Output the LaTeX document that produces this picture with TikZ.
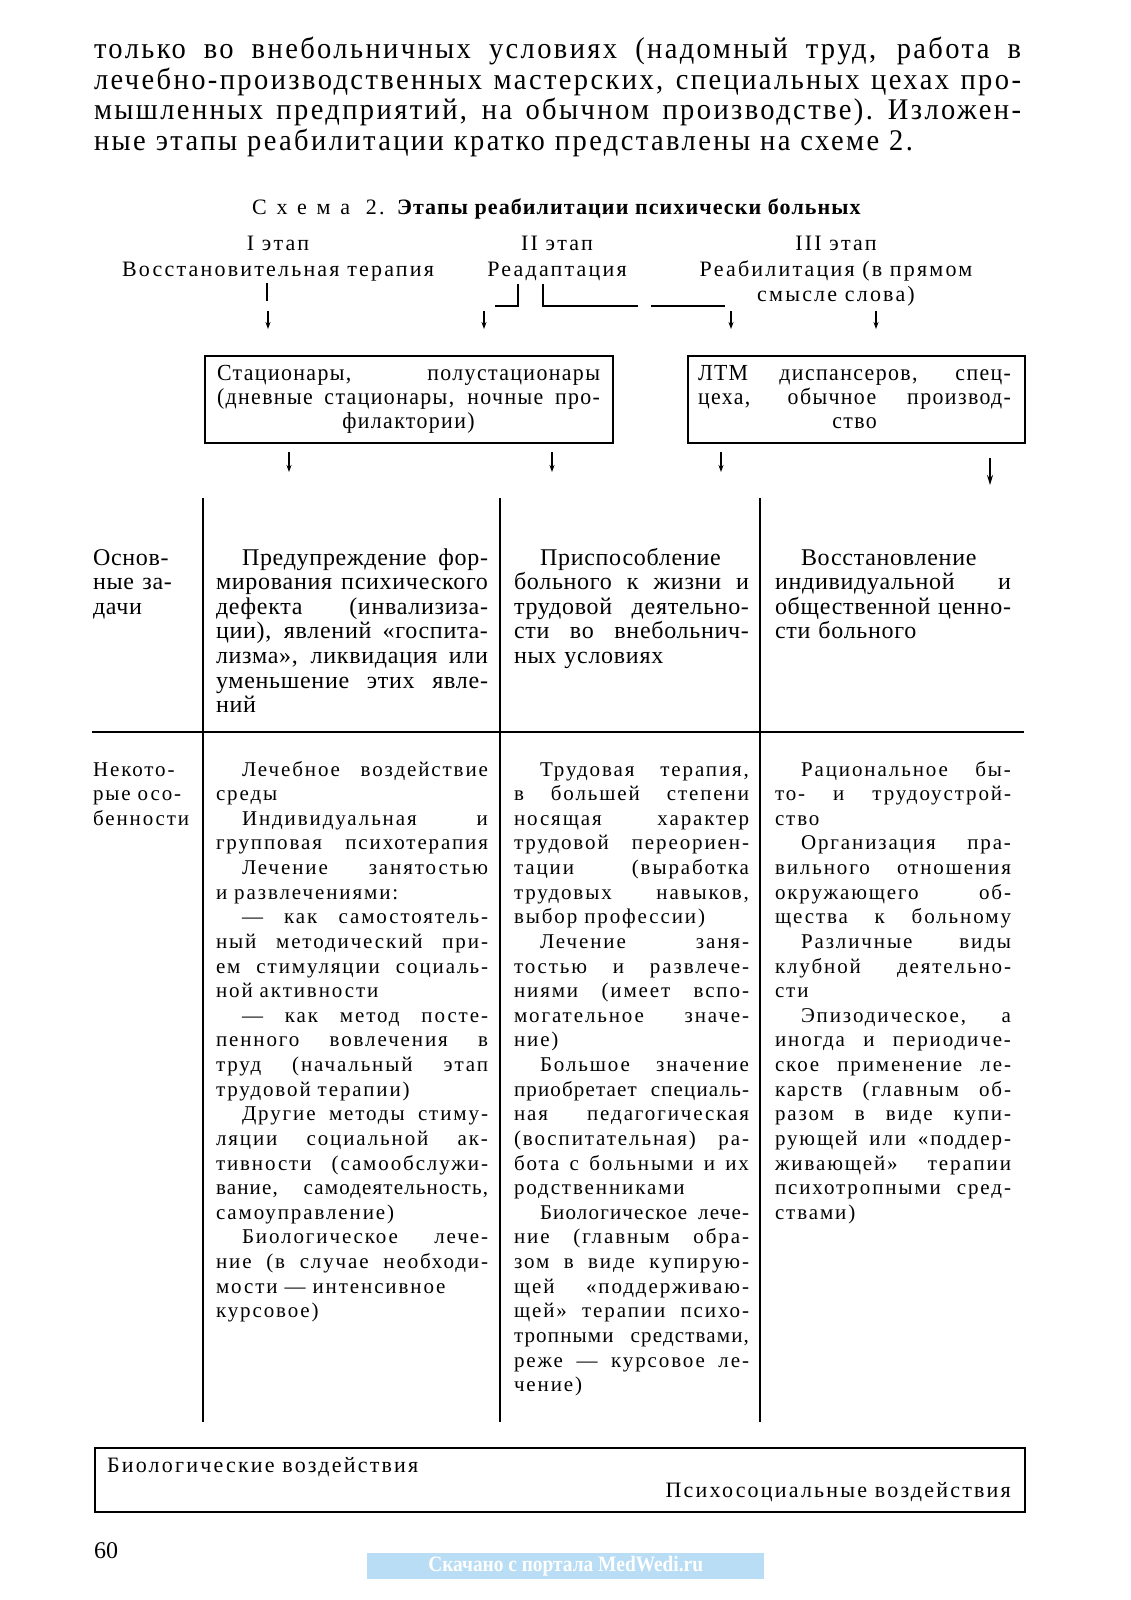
\documentclass[tikz,border=0pt]{standalone}
\usepackage{fontspec}
\setmainfont{Liberation Serif}
\newfontfamily\condf[FakeStretch=0.95,LetterSpace=8]{Liberation Serif}
\newfontfamily\boxf[FakeStretch=0.95,LetterSpace=6]{Liberation Serif}
\newfontfamily\headf[LetterSpace=10]{Liberation Serif}
\newfontfamily\rowaf[LetterSpace=3]{Liberation Serif}
\newfontfamily\widef[LetterSpace=9]{Liberation Serif}
\newfontfamily\wmf[FakeStretch=0.88]{Liberation Serif}
\usetikzlibrary{arrows.meta}
\newlength\indw \setlength\indw{26pt}
\newcommand\jsp{\spaceskip=0.25em plus 1fil minus 0.1em\relax}
\newcommand\jstl[1]{\leavevmode\hbox to\linewidth{\jsp #1}\par}
\newcommand\ijstl[1]{\leavevmode\hbox to\linewidth{\jsp\hspace*{\indw}#1}\par}
\newcommand\sqjstl[1]{\leavevmode\hbox to\linewidth{\addfontfeature{LetterSpace=5.5}\jsp #1}\par}
\newcommand\sqijstl[1]{\leavevmode\hbox to\linewidth{\addfontfeature{LetterSpace=5.5}\jsp\hspace*{\indw}#1}\par}
\newcommand\lftl[1]{\mbox{#1}\par}
\newcommand\ilftl[1]{\mbox{\hspace*{\indw}#1}\par}
\newcommand\cntl[1]{\leavevmode\hbox to\linewidth{\hss #1\hss}\par}
\tikzset{
  txt/.style={inner sep=0pt, outer sep=0pt, anchor=base west},
  rowa/.style={txt, font=\rowaf\fontsize{24}{24.63}\selectfont},
  rowb/.style={txt, font=\widef\fontsize{21}{24.63}\selectfont},
  head/.style={inner sep=0pt, anchor=base, align=center, font=\headf\fontsize{22}{25.5}\selectfont},
  frame/.style={draw, line width=1.8pt, inner sep=0pt, anchor=north west},
  rule/.style={line width=1.5pt},
  arr/.style={line width=1.2pt, -{Stealth[length=7pt,width=5pt]}},
  bigarr/.style={line width=1.6pt, -{Stealth[length=10pt,width=6pt]}},
}
\begin{document}
\begin{tikzpicture}[x=1pt,y=-1pt]
\fill[white] (0,0) rectangle (1131,1600);
\useasboundingbox (0,0) rectangle (1131,1600);

% top paragraph
\node[txt, text width=927pt, font=\condf\fontsize{30}{30.6}\selectfont] (para) at (94,58.5) {%
\jstl{только во внебольничных условиях (надомный труд, работа в}
\jstl{лечебно-производственных мастерских, специальных цехах про-}
\jstl{мышленных предприятий, на обычном производстве). Изложен-}
\lftl{ные этапы реабилитации кратко представлены на схеме 2.}};

% caption
\node[head] (cap) at (557,214) {{\addfontfeature{LetterSpace=45}Схема}\hspace{8pt} 2. {\addfontfeature{LetterSpace=5}\textbf{Этапы реабилитации психически больных}}};

% stage headings (base = last line)
\node[head] (st1) at (278,276) {I этап\\Восстановительная терапия};
\node[head] (st2) at (557,276) {II этап\\Реадаптация};
\node[head] (st3) at (836,301.5) {III этап\\Реабилитация (в прямом\\смысле слова)};

% connectors under headings
\coordinate (v1a) at (267,283); \coordinate (v1b) at (267,301);
\draw[line width=1.2pt] (v1a) -- (v1b);
\coordinate (k1a) at (495,306); \coordinate (k1b) at (518,306); \coordinate (k1c) at (518,284);
\draw[line width=1.2pt] (k1a) -- (k1b) -- (k1c);
\coordinate (k2a) at (543,284); \coordinate (k2b) at (543,306); \coordinate (k2c) at (638,306);
\draw[line width=1.2pt] (k2a) -- (k2b) -- (k2c);
\coordinate (k3a) at (651,306); \coordinate (k3b) at (725,306);
\draw[line width=1.2pt] (k3a) -- (k3b);

\foreach \i/\x in {1/268,2/484,3/731,4/876}{
  \coordinate (a\i s) at (\x,311); \coordinate (a\i e) at (\x,329);
  \draw[arr] (a\i s) -- (a\i e);
}

% boxes
\node[frame, minimum width=408pt, minimum height=87pt] (box1) at (204,355) {};
\node[frame, minimum width=337pt, minimum height=87pt] (box2) at (687,355) {};
\node[txt, text width=383pt, font=\boxf\fontsize{23}{24}\selectfont] (box1t) at (217,380) {%
\jstl{Стационары, полустационары}
\jstl{(дневные стационары, ночные про-}
\cntl{филактории)}};
\node[txt, text width=313pt, font=\boxf\fontsize{23}{24}\selectfont] (box2t) at (698,380) {%
\jstl{ЛТМ диспансеров, спец-}
\jstl{цеха, обычное производ-}
\cntl{ство}};

\foreach \i/\x in {1/289,2/552,3/721}{
  \coordinate (b\i s) at (\x,452); \coordinate (b\i e) at (\x,472);
  \draw[arr] (b\i s) -- (b\i e);
}
\coordinate (b4s) at (990,458); \coordinate (b4e) at (990,485);
\draw[bigarr] (b4s) -- (b4e);

% table rules
\foreach \i/\x in {1/203,2/500,3/760}{
  \coordinate (t\i a) at (\x,498); \coordinate (t\i b) at (\x,1422);
  \draw[rule] (t\i a) -- (t\i b);
}
\coordinate (ha) at (92,732); \coordinate (hb) at (1024,732);
\draw[line width=1.8pt] (ha) -- (hb);

% row 1
\node[rowa, text width=79pt] (r1c0) at (93,565) {%
\lftl{Основ-}
\jstl{ные за-}
\lftl{дачи}};
\node[rowa, text width=272pt] (r1c1) at (216,565) {%
\ijstl{Предупреждение фор-}
\jstl{мирования психического}
\jstl{дефекта (инвализиза-}
\jstl{ции), явлений «госпита-}
\jstl{лизма», ликвидация или}
\jstl{уменьшение этих явле-}
\lftl{ний}};
\node[rowa, text width=235pt] (r1c2) at (514,565) {%
\ilftl{Приспособление}
\jstl{больного к жизни и}
\jstl{трудовой деятельно-}
\jstl{сти во внебольнич-}
\lftl{ных условиях}};
\node[rowa, text width=236pt] (r1c3) at (775,565) {%
\ilftl{Восстановление}
\jstl{индивидуальной и}
\jstl{общественной ценно-}
\lftl{сти больного}};

% row 2
\node[rowb, text width=95pt] (r2c0) at (93,776) {%
\lftl{Некото-}
\lftl{рые осо-}
\lftl{бенности}};
\node[rowb, text width=272pt] (r2c1) at (216,776) {%
\ijstl{Лечебное воздействие}
\lftl{среды}
\ijstl{Индивидуальная и}
\jstl{групповая психотерапия}
\ijstl{Лечение занятостью}
\lftl{и развлечениями:}
\ijstl{— как самостоятель-}
\jstl{ный методический при-}
\jstl{ем стимуляции социаль-}
\lftl{ной активности}
\ijstl{— как метод посте-}
\jstl{пенного вовлечения в}
\jstl{труд (начальный этап}
\lftl{трудовой терапии)}
\ijstl{Другие методы стиму-}
\jstl{ляции социальной ак-}
\jstl{тивности (самообслужи-}
\sqjstl{вание, самодеятельность,}
\lftl{самоуправление)}
\ijstl{Биологическое лече-}
\jstl{ние (в случае необходи-}
\lftl{мости — интенсивное}
\lftl{курсовое)}};
\node[rowb, text width=235pt] (r2c2) at (514,776) {%
\ijstl{Трудовая терапия,}
\jstl{в большей степени}
\jstl{носящая характер}
\jstl{трудовой переориен-}
\jstl{тации (выработка}
\jstl{трудовых навыков,}
\lftl{выбор профессии)}
\ijstl{Лечение заня-}
\jstl{тостью и развлече-}
\jstl{ниями (имеет вспо-}
\jstl{могательное значе-}
\lftl{ние)}
\ijstl{Большое значение}
\sqjstl{приобретает специаль-}
\jstl{ная педагогическая}
\jstl{(воспитательная) ра-}
\jstl{бота с больными и их}
\lftl{родственниками}
\sqijstl{Биологическое лече-}
\jstl{ние (главным обра-}
\jstl{зом в виде купирую-}
\jstl{щей «поддерживаю-}
\jstl{щей» терапии психо-}
\sqjstl{тропными средствами,}
\jstl{реже — курсовое ле-}
\lftl{чение)}};
\node[rowb, text width=236pt] (r2c3) at (775,776) {%
\ijstl{Рациональное бы-}
\jstl{то- и трудоустрой-}
\lftl{ство}
\ijstl{Организация пра-}
\jstl{вильного отношения}
\jstl{окружающего об-}
\jstl{щества к больному}
\ijstl{Различные виды}
\jstl{клубной деятельно-}
\lftl{сти}
\ijstl{Эпизодическое, а}
\jstl{иногда и периодиче-}
\jstl{ское применение ле-}
\jstl{карств (главным об-}
\jstl{разом в виде купи-}
\jstl{рующей или «поддер-}
\jstl{живающей» терапии}
\jstl{психотропными сред-}
\lftl{ствами)}};

% bottom box
\node[frame, minimum width=930pt, minimum height=64pt] (bbox) at (94,1447) {};
\node[txt, font=\headf\fontsize{22}{25}\selectfont] (bio) at (107,1472) {Биологические воздействия};
\node[inner sep=0pt, anchor=base east, font=\headf\fontsize{22}{25}\selectfont] (psy) at (1011,1497) {Психосоциальные воздействия};

% page number
\node[txt, font=\fontsize{24}{26}\selectfont] (pg) at (94,1558) {60};

% watermark
\node[inner sep=0pt, anchor=north west, fill={rgb,255:red,184;green,221;blue,245}, minimum width=397pt, minimum height=26pt] (wm) at (367,1553) {};
\node[inner sep=0pt, text=white, font=\wmf\bfseries\fontsize{22}{22}\selectfont] (wmt) at (wm.center) {Скачано с портала MedWedi.ru};
\end{tikzpicture}
\end{document}
